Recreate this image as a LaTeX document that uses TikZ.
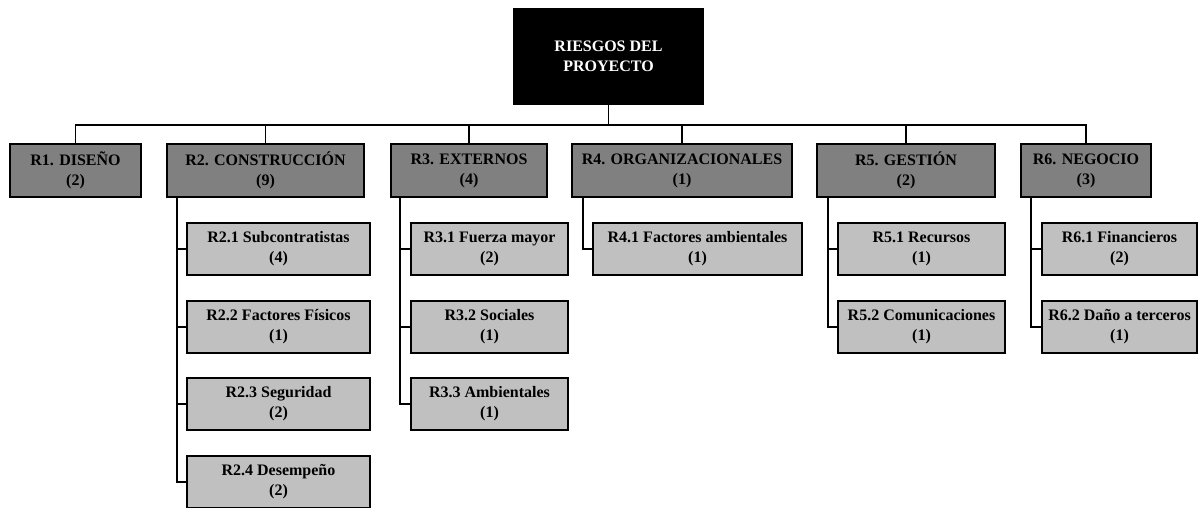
\documentclass[tikz,border=0pt]{standalone}
\usepackage{fontspec}
\setmainfont{Liberation Serif}
\definecolor{lvlone}{RGB}{128,128,128}
\definecolor{lvltwo}{RGB}{192,192,192}
\begin{document}
\begin{tikzpicture}[x=1pt,y=-1pt,
  box/.style={draw=black,line width=1.4pt,inner sep=0pt,outer sep=0pt,align=center,
    font=\fontsize{16}{20}\selectfont\bfseries},
  rootbox/.style={box,fill=black,text=white,minimum width=189pt,minimum height=95pt},
  catbox/.style={box,fill=lvlone,minimum height=53pt},
  subbox/.style={box,fill=lvltwo,minimum height=52pt},
  link/.style={draw=black,line width=1.4pt}]
\useasboundingbox (0,0) rectangle (1198,507);
\node[rootbox] (root) at (608.5,56.5) {RIESGOS DEL\\PROYECTO};
% level 1
\node[catbox,minimum width=131pt] (R1) at (75.5,170.5) {R1. DISEÑO\\(2)};
\node[catbox,minimum width=197pt] (R2) at (265.5,170.5) {R2. CONSTRUCCIÓN\\(9)};
\node[catbox,minimum width=156pt] (R3) at (469,170.5) {R3. EXTERNOS\\(4)};
\node[catbox,minimum width=220pt] (R4) at (682,170.5) {R4. ORGANIZACIONALES\\(1)};
\node[catbox,minimum width=178pt] (R5) at (906,170.5) {R5. GESTIÓN\\(2)};
\node[catbox,minimum width=130pt] (R6) at (1086,170.5) {R6. NEGOCIO\\(3)};
% level 2
\node[subbox,minimum width=183pt] (R21) at (278.5,249) {R2.1 Subcontratistas\\(4)};
\node[subbox,minimum width=183pt] (R22) at (278.5,327) {R2.2 Factores Físicos\\(1)};
\node[subbox,minimum width=183pt] (R23) at (278.5,404) {R2.3 Seguridad\\(2)};
\node[subbox,minimum width=183pt] (R24) at (278.5,482) {R2.4 Desempeño\\(2)};
\node[subbox,minimum width=157pt] (R31) at (489.5,249) {R3.1 Fuerza mayor\\(2)};
\node[subbox,minimum width=157pt] (R32) at (489.5,327) {R3.2 Sociales\\(1)};
\node[subbox,minimum width=157pt] (R33) at (489.5,404) {R3.3 Ambientales\\(1)};
\node[subbox,minimum width=209pt] (R41) at (697.5,249) {R4.1 Factores ambientales\\(1)};
\node[subbox,minimum width=167pt] (R51) at (921.5,249) {R5.1 Recursos\\(1)};
\node[subbox,minimum width=167pt] (R52) at (921.5,327) {R5.2 Comunicaciones\\(1)};
\node[subbox,minimum width=155pt] (R61) at (1119.5,249) {R6.1 Financieros\\(2)};
\node[subbox,minimum width=155pt] (R62) at (1119.5,327) {R6.2 Daño a terceros\\(1)};
% connectors
\coordinate (bus) at (608.5,125);
\draw[link] (root.south) -- (bus);
\foreach \k in {R1,R2,R3,R4,R5,R6} \draw[link] (bus) -| (\k.north);
\foreach \c in {R21,R22,R23,R24} \draw[link] ([xshift=10pt]R2.south west) |- (\c.west);
\foreach \c in {R31,R32,R33} \draw[link] ([xshift=9pt]R3.south west) |- (\c.west);
\draw[link] ([xshift=11pt]R4.south west) |- (R41.west);
\foreach \c in {R51,R52} \draw[link] ([xshift=11pt]R5.south west) |- (\c.west);
\foreach \c in {R61,R62} \draw[link] ([xshift=10pt]R6.south west) |- (\c.west);
\end{tikzpicture}
\end{document}
